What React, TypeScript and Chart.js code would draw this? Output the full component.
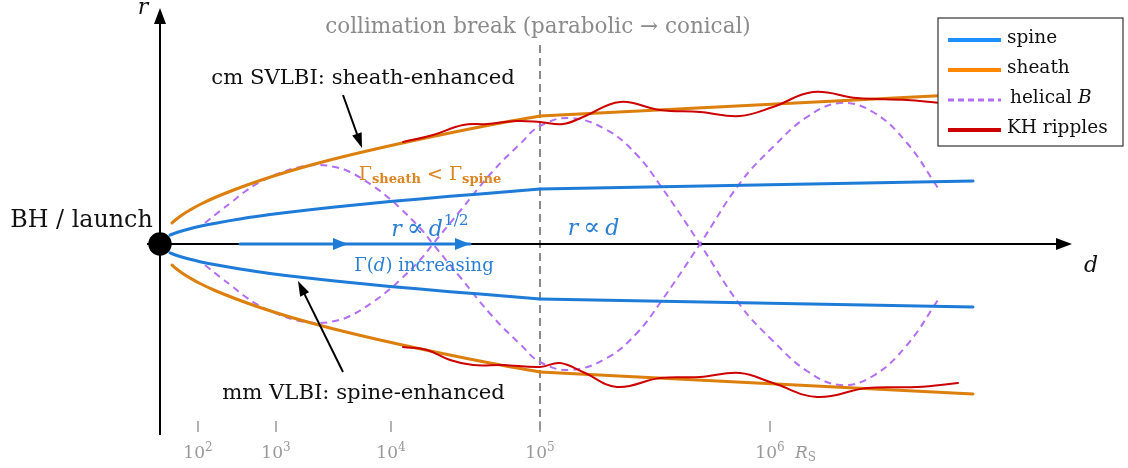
import { useEffect, useRef } from 'react';
import { Chart, registerables } from 'chart.js';

Chart.register(...registerables);

// Schematic coordinates: d = distance along the jet, r = radius (origin at the black hole)
// parabolic zone (before the collimation break) and conical zone (after it)
const SPINE_PARA_D = [10, 14, 20, 28, 40, 57, 80, 110, 150, 200, 260, 320, 380];
const SPINE_PARA_UPPER = [8.9, 10.5, 12.5, 14.8, 17.7, 21.1, 25, 29.4, 34.3, 39.6, 45.1, 50.1, 55];
const SPINE_PARA_LOWER = [-8.9, -10.5, -12.5, -14.8, -17.7, -21.1, -25, -29.4, -34.3, -39.6, -45.1, -50.1, -55];
const SPINE_CONE_D = [380, 813];
const SPINE_CONE_UPPER = [55, 63];
const SPINE_CONE_LOWER = [-55, -63];

const SHEATH_PARA_D = [12, 16, 22, 30, 40, 55, 75, 100, 130, 170, 220, 280, 330, 380];
const SHEATH_PARA_UPPER = [21, 24.5, 29, 34, 39.5, 46.5, 54.5, 63.5, 73, 84, 96, 109, 119, 128];
const SHEATH_PARA_LOWER = [-21, -24.5, -29, -34, -39.5, -46.5, -54.5, -63.5, -73, -84, -96, -109, -119, -128];
const SHEATH_CONE_D = [380, 813];
const SHEATH_CONE_UPPER = [128, 150];
const SHEATH_CONE_LOWER = [-128, -150];

const HELIX_D = [45, 60, 73, 83, 100, 120, 140, 157, 175, 190, 213, 230, 240, 260, 273, 300, 333, 360, 380, 410, 447, 477, 500, 540, 580, 613, 647, 680, 713, 747, 778];
const HELIX_A = [21, 33, 43, 51, 62, 71, 77, 79, 77, 72, 58, 45, 36, 16, 0, -33, -73, -100, -118, -126, -114, -89, -59, 0, 61, 97, 127, 141, 132, 101, 56];
const HELIX_B = [-21, -33, -43, -51, -62, -71, -77, -79, -77, -72, -58, -45, -36, -16, 0, 33, 73, 100, 118, 126, 114, 89, 59, 0, -61, -97, -127, -141, -132, -101, -56];

const KH_UP_D = [243, 273, 303, 327, 357, 380, 403, 423, 460, 500, 540, 580, 613, 653, 697, 747, 780, 800];
const KH_UP_R = [102, 109, 119, 120, 123, 122, 120, 127, 142, 134, 132, 128, 137, 152, 146, 144, 141, 140];
const KH_LO_D = [243, 267, 290, 313, 343, 380, 400, 423, 457, 500, 540, 580, 613, 657, 707, 757, 798];
const KH_LO_R = [-103, -106, -116, -121, -121, -123, -119, -128, -143, -134, -133, -129, -139, -153, -144, -143, -139];

const FLOW_D = [80, 310];
const FLOW_R = [0, 0];
const FLOW_TIPS = [188, 310];

const BREAK_D = 380;
const TICK_D = [38, 116, 231, 380, 610];
const TICK_EXP = ['2', '3', '4', '5', '6'];

const LEGEND_LABELS = ['spine', 'sheath', 'helical B', 'KH ripples'];

const C_SPINE = '#1f7bd8';
const C_SHEATH = '#dc7f0c';
const C_HELIX = '#b36ff2';
const C_KH = '#cc0000';
const C_SPINE_LEG = '#1e90ff';
const C_SHEATH_LEG = '#ff8800';
const C_TEXT_BLUE = '#2a7fd4';
const C_TEXT_ORANGE = '#dc8420';
const C_GRAY = '#8a8a8a';
const SERIF = '"DejaVu Serif", serif';

const pts = (ds: number[], rs: number[]) => ds.map((d, i) => ({ x: d, y: rs[i] }));

type Run = { t: string; size: number; italic?: boolean; bold?: boolean; dy?: number; gap?: number };

function drawRuns(ctx: CanvasRenderingContext2D, runs: Run[], x: number, y: number, align: 'left' | 'center', color: string) {
  const fonts = runs.map(r => `${r.italic ? 'italic ' : ''}${r.bold ? 'bold ' : ''}${r.size}px ${SERIF}`);
  const widths = runs.map((r, i) => { ctx.font = fonts[i]; return ctx.measureText(r.t).width + (r.gap || 0); });
  const total = widths.reduce((a, b) => a + b, 0);
  let cx = align === 'center' ? x - total / 2 : x;
  ctx.fillStyle = color;
  ctx.textAlign = 'left';
  ctx.textBaseline = 'alphabetic';
  runs.forEach((r, i) => {
    ctx.font = fonts[i];
    ctx.fillText(r.t, cx, y + (r.dy || 0));
    cx += widths[i];
  });
}

function head(ctx: CanvasRenderingContext2D, tx: number, ty: number, ang: number, len: number, w: number) {
  const bx = tx - len * Math.cos(ang);
  const by = ty - len * Math.sin(ang);
  ctx.beginPath();
  ctx.moveTo(tx, ty);
  ctx.lineTo(bx + (w / 2) * Math.sin(ang), by - (w / 2) * Math.cos(ang));
  ctx.lineTo(bx - (w / 2) * Math.sin(ang), by + (w / 2) * Math.cos(ang));
  ctx.closePath();
  ctx.fill();
}

function arrow(ctx: CanvasRenderingContext2D, x0: number, y0: number, x1: number, y1: number, color: string, lw: number, len: number, w: number) {
  const ang = Math.atan2(y1 - y0, x1 - x0);
  ctx.strokeStyle = color;
  ctx.fillStyle = color;
  ctx.lineWidth = lw;
  ctx.beginPath();
  ctx.moveTo(x0, y0);
  ctx.lineTo(x1 - (len - 2) * Math.cos(ang), y1 - (len - 2) * Math.sin(ang));
  ctx.stroke();
  head(ctx, x1, y1, ang, len, w);
}

const decor = {
  id: 'decor',
  beforeDatasetsDraw(chart: any) {
    const ctx: CanvasRenderingContext2D = chart.ctx;
    const X = (d: number) => chart.scales.x.getPixelForValue(d);
    const Y = (r: number) => chart.scales.y.getPixelForValue(r);
    ctx.save();
    // collimation break line
    ctx.strokeStyle = C_GRAY;
    ctx.lineWidth = 2;
    ctx.setLineDash([8, 5]);
    ctx.beginPath();
    ctx.moveTo(X(BREAK_D), Y(199));
    ctx.lineTo(X(BREAK_D), Y(-191));
    ctx.stroke();
    ctx.setLineDash([]);
    // ticks
    ctx.strokeStyle = '#999';
    ctx.lineWidth = 1.5;
    TICK_D.forEach(d => {
      ctx.beginPath();
      ctx.moveTo(X(d), Y(-177));
      ctx.lineTo(X(d), Y(-188));
      ctx.stroke();
    });
    // axes
    arrow(ctx, X(0), Y(-191), X(0), Y(236), '#000', 2, 16, 12);
    arrow(ctx, X(-13), Y(0), X(912), Y(0), '#000', 2, 16, 12);
    ctx.restore();
  },
  afterDatasetsDraw(chart: any) {
    const ctx: CanvasRenderingContext2D = chart.ctx;
    const X = (d: number) => chart.scales.x.getPixelForValue(d);
    const Y = (r: number) => chart.scales.y.getPixelForValue(r);
    ctx.save();
    // flow arrowheads
    ctx.fillStyle = C_SPINE;
    FLOW_TIPS.forEach(d => head(ctx, X(d), Y(0), 0, 15, 12));
    // annotation arrows
    arrow(ctx, X(183), Y(149), X(202), Y(96), '#000', 2, 15, 10);
    arrow(ctx, X(183), Y(-128), X(138), Y(-37), '#000', 2, 15, 10);

    // texts
    drawRuns(ctx, [{ t: 'collimation break (parabolic \u2192 conical)', size: 21.5 }], X(378), Y(211), 'center', C_GRAY);
    drawRuns(ctx, [{ t: 'cm SVLBI: sheath-enhanced', size: 21.2 }], X(203), Y(160), 'center', '#111');
    drawRuns(ctx, [{ t: 'mm VLBI: spine-enhanced', size: 21.2 }], X(203.5), Y(-155), 'center', '#111');
    drawRuns(ctx, [{ t: 'BH / launch', size: 23.8 }], X(-78.5), Y(17), 'center', '#111');
    drawRuns(ctx, [
      { t: '\u0393', size: 19 },
      { t: 'sheath', size: 13, bold: true, dy: 3 },
      { t: ' < ', size: 19 },
      { t: '\u0393', size: 19 },
      { t: 'spine', size: 13, bold: true, dy: 3 },
    ], X(270), Y(64), 'center', C_TEXT_ORANGE);
    drawRuns(ctx, [
      { t: 'r', size: 22, italic: true, gap: 5 },
      { t: '\u221D', size: 25, gap: 5 },
      { t: 'd', size: 22, italic: true, gap: 1 },
      { t: '1/2', size: 15.5, dy: -11 },
    ], X(270), Y(8), 'center', C_TEXT_BLUE);
    drawRuns(ctx, [
      { t: '\u0393(', size: 18 },
      { t: 'd', size: 18, italic: true },
      { t: ') increasing', size: 18 },
    ], X(264), Y(-27), 'center', C_TEXT_BLUE);
    drawRuns(ctx, [
      { t: 'r', size: 22, italic: true, gap: 5 },
      { t: '\u221D', size: 25, gap: 5 },
      { t: 'd', size: 22, italic: true },
    ], X(433.5), Y(9), 'center', C_TEXT_BLUE);
    drawRuns(ctx, [{ t: 'r', size: 22, italic: true }], X(-17), Y(230), 'center', '#111');
    drawRuns(ctx, [{ t: 'd', size: 22, italic: true }], X(931), Y(-28), 'center', '#111');
    // tick labels
    TICK_D.forEach((d, i) => {
      drawRuns(ctx, [
        { t: '10', size: 17 },
        { t: TICK_EXP[i], size: 12, dy: -7 },
      ], X(d), Y(-214), 'center', '#999');
    });
    drawRuns(ctx, [
      { t: 'R', size: 17, italic: true },
      { t: 'S', size: 12, dy: 3 },
    ], X(635), Y(-214), 'left', '#999');

    // legend
    const bx = 938, by = 18, bw = 185, bh = 128;
    ctx.fillStyle = '#fff';
    ctx.fillRect(bx, by, bw, bh);
    ctx.strokeStyle = '#333';
    ctx.lineWidth = 1.2;
    ctx.strokeRect(bx, by, bw, bh);
    const legColors = [C_SPINE_LEG, C_SHEATH_LEG, C_HELIX, C_KH];
    LEGEND_LABELS.forEach((lab, i) => {
      const ly = 40 + i * 30;
      ctx.strokeStyle = legColors[i];
      ctx.lineWidth = i === 2 ? 3 : 4;
      ctx.setLineDash(i === 2 ? [6, 4] : []);
      ctx.beginPath();
      ctx.moveTo(948, ly);
      ctx.lineTo(1001, ly);
      ctx.stroke();
      ctx.setLineDash([]);
      if (lab === 'helical B') {
        drawRuns(ctx, [{ t: 'helical ', size: 18.5 }, { t: 'B', size: 18.5, italic: true }], 1010, ly + 2.5, 'left', '#111');
      } else {
        drawRuns(ctx, [{ t: lab, size: 18.5 }], 1007, ly + 2.5, 'left', '#111');
      }
    });
    ctx.restore();
  },
};

export default function App() {
  const ref = useRef<HTMLCanvasElement>(null);
  useEffect(() => {
    if (!ref.current) return;
    const line = (data: any, color: string, width: number, order: number, dash: number[] = [], tension = 0.4) => ({
      data,
      borderColor: color,
      borderWidth: width,
      borderDash: dash,
      borderCapStyle: 'round' as const,
      order,
      pointRadius: 0,
      fill: false,
      tension,
    });
    const chart = new Chart(ref.current, {
      type: 'line',
      data: {
        datasets: [
          {
            data: [{ x: 0, y: 0 }],
            showLine: false,
            pointRadius: 11.7,
            pointBackgroundColor: '#000',
            pointBorderWidth: 0,
            order: 0,
          } as any,
          line(pts(KH_UP_D, KH_UP_R), C_KH, 2, 1),
          line(pts(KH_LO_D, KH_LO_R), C_KH, 2, 1),
          line(pts(SHEATH_PARA_D, SHEATH_PARA_UPPER), C_SHEATH, 3, 2),
          line(pts(SHEATH_PARA_D, SHEATH_PARA_LOWER), C_SHEATH, 3, 2),
          line(pts(SHEATH_CONE_D, SHEATH_CONE_UPPER), C_SHEATH, 3, 2, [], 0),
          line(pts(SHEATH_CONE_D, SHEATH_CONE_LOWER), C_SHEATH, 3, 2, [], 0),
          line(pts(SPINE_PARA_D, SPINE_PARA_UPPER), C_SPINE, 3, 3),
          line(pts(SPINE_PARA_D, SPINE_PARA_LOWER), C_SPINE, 3, 3),
          line(pts(SPINE_CONE_D, SPINE_CONE_UPPER), C_SPINE, 3, 3, [], 0),
          line(pts(SPINE_CONE_D, SPINE_CONE_LOWER), C_SPINE, 3, 3, [], 0),
          line(pts(FLOW_D, FLOW_R), C_SPINE, 3, 3, [], 0),
          { ...line(pts(HELIX_D, HELIX_A), C_HELIX, 2, 5, [7, 5]), borderCapStyle: 'butt' as const },
          { ...line(pts(HELIX_D, HELIX_B), C_HELIX, 2, 5, [7, 5]), borderCapStyle: 'butt' as const },
        ],
      },
      options: {
        animation: false,
        responsive: true,
        maintainAspectRatio: false,
        events: [],
        layout: { padding: 0, autoPadding: false },
        scales: {
          x: { type: 'linear', min: -160, max: 968, display: false },
          y: { type: 'linear', min: -224, max: 244, display: false },
        },
        plugins: { legend: { display: false }, tooltip: { enabled: false } },
      },
      plugins: [decor],
    });
    return () => chart.destroy();
  }, []);
  return (
    <div style={{ position: 'fixed', left: 0, top: 0, width: 1128, height: 468, background: '#fff' }}>
      <canvas ref={ref} />
    </div>
  );
}
